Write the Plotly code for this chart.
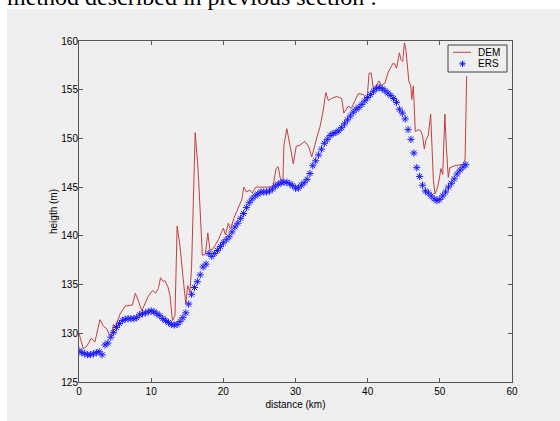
import plotly.graph_objects as go

# ---------------- data ----------------
dem_km = [0.0, 0.6, 1.1, 1.7, 2.2, 2.9, 3.4, 3.8, 4.2, 4.5,
          4.75, 5.0, 5.2, 5.7, 6.4, 7.0, 7.4, 7.8, 8.2, 8.7,
          9.15, 9.6, 10.2, 10.6, 11.0, 11.3, 11.7, 11.9, 12.3, 12.6,
          12.95, 13.3, 13.6, 14.0, 14.45, 14.8, 15.06, 15.38, 15.6, 16.1,
          16.5, 16.8, 17.1, 17.5, 17.85, 18.15, 18.6, 19.3, 20.0, 20.3,
          20.7, 21.0, 21.45, 21.85, 22.2, 22.55, 22.85, 23.2, 23.7, 24.0,
          24.5, 25.3, 26.5, 26.9, 27.3, 27.6, 27.95, 28.25, 28.4, 28.8,
          29.25, 29.7, 30.1, 30.6, 31.3, 31.8, 32.25, 32.7, 33.0, 33.4,
          33.85, 34.2, 34.55, 35.0, 35.7, 36.4, 36.7, 37.3, 37.75, 38.25,
          38.7, 39.4, 39.9, 40.2, 40.5, 40.8, 41.2, 41.6, 41.9, 42.4,
          42.85, 43.3, 43.5, 43.8, 44.0, 44.4, 44.6, 44.85, 45.1, 45.3,
          45.5, 45.7, 45.97, 46.1, 46.33, 46.6, 47.0, 47.35, 47.6, 47.85,
          48.1, 48.4, 48.73, 48.9, 49.1, 49.33, 49.7, 50.0, 50.15, 50.4,
          50.7, 50.9, 51.17, 51.4, 52.1, 52.8, 53.25, 53.5, 53.72]
dem_m = [130.0, 128.4, 128.7, 129.5, 129.1, 131.4, 130.7, 130.5, 129.9, 129.7,
         130.9, 130.6, 131.0, 132.0, 132.8, 132.9, 132.9, 134.1, 133.4, 132.3,
         133.1, 133.8, 134.4, 134.1, 134.6, 135.7, 135.3, 135.4, 134.8, 133.9,
         131.3, 131.8, 141.0, 138.9, 135.5, 133.0, 134.9, 134.2, 136.8, 150.6,
         146.8, 141.6, 138.0, 138.1, 140.3, 138.5, 138.7, 139.6, 140.8, 140.1,
         141.3, 140.7, 141.8, 142.5, 143.2, 143.7, 145.0, 144.5, 144.7, 144.4,
         145.0, 145.0, 145.0, 145.1, 146.9, 147.1, 145.7, 145.7, 149.3, 151.0,
         149.2, 147.4, 149.2, 149.3, 149.7, 149.2, 148.1, 149.5, 150.2, 151.2,
         152.9, 154.7, 153.9, 154.1, 154.3, 154.1, 152.6, 153.3, 153.1, 153.9,
         154.6, 154.5, 153.9, 156.7, 156.7, 155.0, 155.4, 155.9, 155.4, 155.7,
         156.8, 157.4, 157.7, 157.6, 157.2, 158.8, 158.1, 157.9, 159.8, 159.1,
         157.1, 155.9, 155.4, 154.0, 155.4, 150.7, 150.9, 150.8, 150.3, 148.9,
         149.9, 150.3, 152.5, 149.2, 145.8, 144.3, 145.0, 146.2, 146.9, 146.3,
         152.5, 149.2, 146.0, 147.0, 147.2, 147.3, 147.3, 147.9, 156.4]

ers_km = [0.0, 0.4, 0.8, 1.2, 1.6, 2.0, 2.4, 2.8, 3.2, 3.6,
          4.0, 4.4, 4.8, 5.2, 5.6, 6.0, 6.4, 6.8, 7.2, 7.6,
          8.0, 8.4, 8.8, 9.2, 9.6, 10.0, 10.4, 10.8, 11.2, 11.6,
          12.0, 12.4, 12.8, 13.2, 13.6, 14.0, 14.4, 14.8, 15.2, 15.6,
          16.0, 16.4, 16.8, 17.2, 17.6, 18.0, 18.4, 18.8, 19.2, 19.6,
          20.0, 20.4, 20.8, 21.2, 21.6, 22.0, 22.4, 22.8, 23.2, 23.6,
          24.0, 24.4, 24.8, 25.2, 25.6, 26.0, 26.4, 26.8, 27.2, 27.6,
          28.0, 28.4, 28.8, 29.2, 29.6, 30.0, 30.4, 30.8, 31.2, 31.6,
          32.0, 32.4, 32.8, 33.2, 33.6, 34.0, 34.4, 34.8, 35.2, 35.6,
          36.0, 36.4, 36.8, 37.2, 37.6, 38.0, 38.4, 38.8, 39.2, 39.6,
          40.0, 40.4, 40.8, 41.2, 41.6, 42.0, 42.4, 42.8, 43.2, 43.6,
          44.0, 44.4, 44.8, 45.2, 45.6, 46.0, 46.4, 46.8, 47.2, 47.6,
          48.0, 48.4, 48.8, 49.2, 49.6, 50.0, 50.4, 50.8, 51.2, 51.6,
          52.0, 52.4, 52.8, 53.2, 53.6]
ers_m = [128.2, 128.0, 127.9, 127.8, 127.8, 127.9, 128.0, 128.1, 127.8, 128.8,
         129.0, 129.6, 130.1, 130.6, 131.0, 131.3, 131.45, 131.5, 131.5, 131.5,
         131.6, 131.9, 132.0, 132.1, 132.2, 132.3, 132.2, 132.0, 131.8, 131.5,
         131.3, 131.1, 130.9, 130.85, 130.9, 131.2, 131.6, 132.1, 133.0, 134.0,
         134.7, 135.3, 136.0, 136.8, 137.1, 138.2, 137.9, 138.2, 138.5, 138.9,
         139.3, 139.6, 139.9, 140.4, 140.9, 141.3, 141.8, 142.3, 142.9, 143.4,
         143.8, 144.1, 144.3, 144.5, 144.5, 144.5, 144.6, 144.8, 145.1, 145.3,
         145.45, 145.5, 145.5, 145.35, 145.15, 144.9, 144.9, 145.2, 145.45, 145.8,
         146.4, 147.2, 147.7, 148.3, 148.9, 149.5, 149.9, 150.3, 150.5, 150.6,
         150.8, 151.1, 151.5, 151.9, 152.3, 152.7, 153.0, 153.2, 153.5, 153.85,
         154.2, 154.5, 154.85, 155.1, 155.25, 155.1, 154.9, 154.65, 154.4, 154.1,
         153.7, 153.0, 152.6, 152.0, 150.9, 149.9, 148.5, 147.0, 146.1, 145.2,
         144.6, 144.4, 144.1, 143.8, 143.6, 143.75, 144.1, 144.5, 145.0, 145.4,
         145.85, 146.35, 146.75, 147.05, 147.3]

x_ticks = [0, 10, 20, 30, 40, 50, 60]
y_ticks = [125, 130, 135, 140, 145, 150, 155, 160]
series_names = ["DEM", "ERS"]

caption = "method described in previous section :"

# ---------------- styling / layout geometry (pixels) ----------------
W, H = 560, 421
L, R, T, B = 79, 48, 41, 39
GREY = "#efefef"
AXC = "#555555"
DEM_C = "#c04040"
ERS_C = "#1a1aff"
PW, PH = W - L - R, H - T - B


def xp(px):
    return (px - L) / PW


def yp(py):
    return (H - B - py) / PH


fig = go.Figure()
fig.add_trace(go.Scatter(x=dem_km, y=dem_m, mode="lines", name=series_names[0],
                         line=dict(color=DEM_C, width=1), showlegend=False))
fig.add_trace(go.Scatter(x=ers_km, y=ers_m, mode="markers", name=series_names[1],
                         marker=dict(symbol="asterisk-open", size=6, color=ERS_C,
                                     line=dict(width=1, color=ERS_C)),
                         showlegend=False))

axis_common = dict(showgrid=False, zeroline=False, showline=True, linecolor=AXC,
                   linewidth=1, mirror="ticks", ticks="inside", ticklen=4,
                   tickcolor=AXC, tickfont=dict(size=10, color="black"))

fig.update_xaxes(range=[0, 60], tickvals=x_ticks, ticktext=[str(v) for v in x_ticks],
                 title=dict(text="distance (km)", font=dict(size=10), standoff=4),
                 **axis_common)
fig.update_yaxes(range=[125, 160], tickvals=y_ticks, ticktext=[str(v) for v in y_ticks],
                 ticklabelstandoff=-2,
                 title=dict(text="heigth (m)", font=dict(size=10), standoff=1),
                 **axis_common)

# legend (MATLAB-style compact box), drawn as decoration
lx0, lx1, ly0, ly1 = 448, 507, 45, 72
row1, row2 = 52.3, 63.8
ax_c, r = 462.5, 3.2
d = r * 0.7071
ast_path = (f"M{xp(ax_c - r)},{yp(row2)} L{xp(ax_c + r)},{yp(row2)} "
            f"M{xp(ax_c)},{yp(row2 - r)} L{xp(ax_c)},{yp(row2 + r)} "
            f"M{xp(ax_c - d)},{yp(row2 - d)} L{xp(ax_c + d)},{yp(row2 + d)} "
            f"M{xp(ax_c - d)},{yp(row2 + d)} L{xp(ax_c + d)},{yp(row2 - d)}")

shapes = [
    dict(type="rect", xref="paper", yref="paper", layer="below",
         x0=xp(7), x1=xp(W + 20), y0=yp(H + 20), y1=yp(9),
         fillcolor=GREY, line=dict(width=0)),
    dict(type="rect", xref="paper", yref="paper", layer="above",
         x0=xp(lx0), x1=xp(lx1), y0=yp(ly1), y1=yp(ly0),
         fillcolor=GREY, line=dict(color="#404040", width=1)),
    dict(type="line", xref="paper", yref="paper", layer="above",
         x0=xp(453), x1=xp(471), y0=yp(row1), y1=yp(row1),
         line=dict(color=DEM_C, width=1)),
    dict(type="path", xref="paper", yref="paper", layer="above",
         path=ast_path, line=dict(color=ERS_C, width=1)),
]

annotations = [
    dict(text=caption, xref="paper", yref="paper", x=xp(5), y=yp(-2.5),
         xanchor="left", yanchor="middle", showarrow=False,
         font=dict(family="Liberation Serif, Times New Roman, serif",
                   size=24, color="black")),
    dict(text=series_names[0], xref="paper", yref="paper", x=xp(476), y=yp(row1),
         xanchor="left", yanchor="middle", showarrow=False,
         font=dict(size=10, color="black")),
    dict(text=series_names[1], xref="paper", yref="paper", x=xp(476), y=yp(row2),
         xanchor="left", yanchor="middle", showarrow=False,
         font=dict(size=10, color="black")),
]

fig.update_layout(
    width=W, height=H,
    margin=dict(l=L, r=R, t=T, b=B, autoexpand=False),
    paper_bgcolor="white", plot_bgcolor=GREY,
    font=dict(family="Liberation Sans, Arial, sans-serif", size=10, color="black"),
    showlegend=False,
    shapes=shapes,
    annotations=annotations,
)

fig.write_html("out.html", config={"displayModeBar": False},
               post_script="document.body.style.margin='0';document.body.style.padding='0';")
